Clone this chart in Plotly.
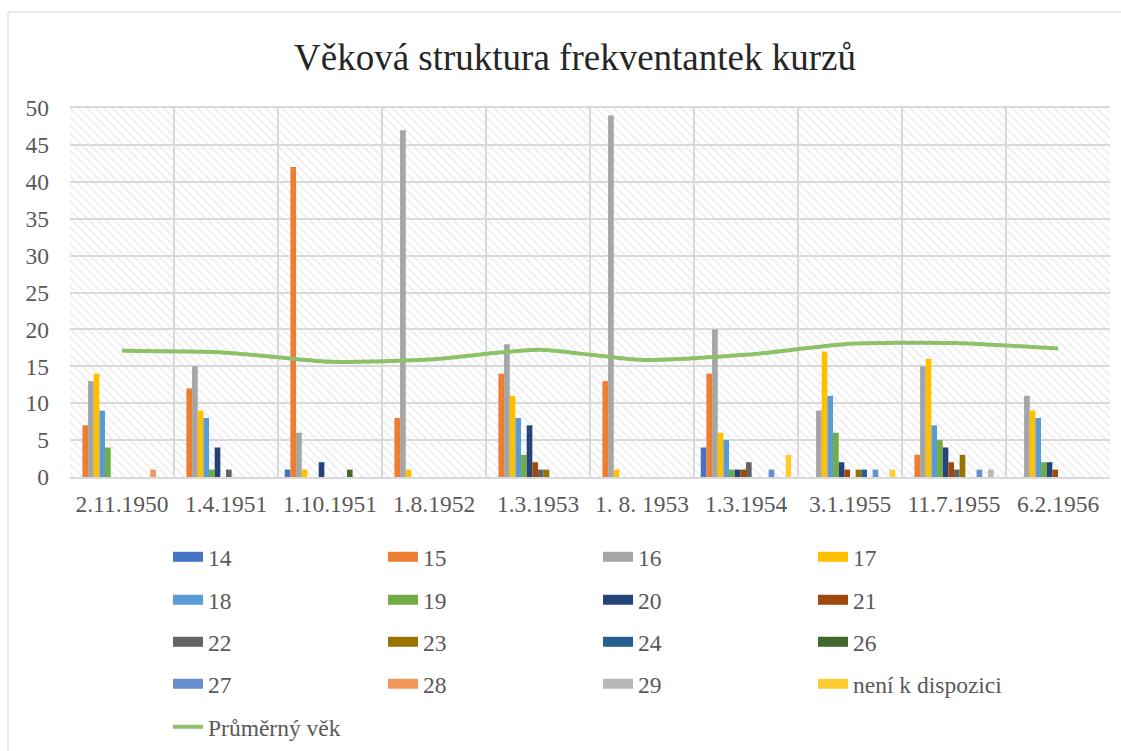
import plotly.graph_objects as go

categories = ["2.11.1950", "1.4.1951", "1.10.1951", "1.8.1952", "1.3.1953",
              "1. 8. 1953", "1.3.1954", "3.1.1955", "11.7.1955", "6.2.1956"]

s14 = [0, 0, 1, 0, 0, 0, 4, 0, 0, 0]
s15 = [7, 12, 42, 8, 14, 13, 14, 0, 3, 0]
s16 = [13, 15, 6, 47, 18, 49, 20, 9, 15, 11]
s17 = [14, 9, 1, 1, 11, 1, 6, 17, 16, 9]
s18 = [9, 8, 0, 0, 8, 0, 5, 11, 7, 8]
s19 = [4, 1, 0, 0, 3, 0, 1, 6, 5, 2]
s20 = [0, 4, 2, 0, 7, 0, 1, 2, 4, 2]
s21 = [0, 0, 0, 0, 2, 0, 1, 1, 2, 1]
s22 = [0, 1, 0, 0, 1, 0, 2, 0, 1, 0]
s23 = [0, 0, 0, 0, 1, 0, 0, 1, 3, 0]
s24 = [0, 0, 0, 0, 0, 0, 0, 1, 0, 0]
s26 = [0, 0, 1, 0, 0, 0, 0, 0, 0, 0]
s27 = [0, 0, 0, 0, 0, 0, 1, 1, 1, 0]
s28 = [1, 0, 0, 0, 0, 0, 0, 0, 0, 0]
s29 = [0, 0, 0, 0, 0, 0, 0, 0, 1, 0]
s_na = [0, 0, 0, 0, 0, 0, 3, 1, 0, 0]
avg_age = [17.1, 16.85, 15.6, 15.95, 17.25, 15.85, 16.55, 18.05, 18.15, 17.4]

series_names = ["14", "15", "16", "17", "18", "19", "20", "21", "22", "23",
                "24", "26", "27", "28", "29", "není k dispozici"]
series_values = [s14, s15, s16, s17, s18, s19, s20, s21, s22, s23,
                 s24, s26, s27, s28, s29, s_na]
series_colors = ["#4472C4", "#ED7D31", "#A5A5A5", "#FFC000", "#5B9BD5", "#70AD47",
                 "#264478", "#9E480E", "#636363", "#997300", "#255E91", "#43682B",
                 "#698ED0", "#F1975A", "#B7B7B7", "#FFCD33"]
line_color = "#8CC168"

W, H = 1121, 751
L, R, T, B = 70, 11, 108, 274
TXT = "#595959"
FONT = "Liberation Serif"
FS = 23.5

fig = go.Figure()

# hatched plot-area background (base subplot, hidden axes)
fig.add_trace(go.Bar(
    x=[0.5], y=[1], width=[1], xaxis="x", yaxis="y", showlegend=False,
    hoverinfo="skip",
    marker=dict(color="rgba(0,0,0,0)", line=dict(width=0),
                pattern=dict(shape="\\", fgcolor="#DADADA", bgcolor="rgba(0,0,0,0)",
                             size=6, solidity=0.3)),
))

for name, vals, col in zip(series_names, series_values, series_colors):
    fig.add_trace(go.Bar(
        x=categories, y=vals, name=name, marker=dict(color=col, line=dict(width=0)),
        xaxis="x2", yaxis="y2", showlegend=False,
    ))

fig.add_trace(go.Scatter(
    x=categories, y=avg_age, name="Průměrný věk", mode="lines",
    line=dict(color=line_color, width=4, shape="spline", smoothing=0.6),
    xaxis="x2", yaxis="y2", showlegend=False,
))

# legend rows (4 columns)
rows = [series_names[0:4], series_names[4:8], series_names[8:12], series_names[12:16]]
row_y = [557, 600, 642, 684, 727]
legend_keys = ["legend", "legend2", "legend3", "legend4", "legend5"]
for ri, row in enumerate(rows):
    for nm in row:
        col = series_colors[series_names.index(nm)]
        fig.add_trace(go.Scatter(
            x=[None], y=[None], name=nm, mode="lines",
            line=dict(color=col, width=12), xaxis="x2", yaxis="y2",
            legend=legend_keys[ri], showlegend=True,
        ))
fig.add_trace(go.Scatter(
    x=[None], y=[None], name="Průměrný věk", mode="lines",
    line=dict(color=line_color, width=4), xaxis="x2", yaxis="y2",
    legend="legend5", showlegend=True,
))

leg_common = dict(orientation="h", xref="container", yref="container",
                  xanchor="left", yanchor="middle", entrywidthmode="pixels",
                  entrywidth=170, bgcolor="rgba(0,0,0,0)", borderwidth=0,
                  font=dict(family=FONT, size=FS, color=TXT), itemwidth=30,
                  traceorder="normal")
legends = {}
for k, py in zip(legend_keys, row_y):
    legends[k] = dict(leg_common, x=168 / W, y=1 - py / H)

fig.update_layout(
    width=W, height=H,
    margin=dict(l=L, r=R, t=T, b=B, pad=0),
    paper_bgcolor="white", plot_bgcolor="white",
    font=dict(family=FONT, size=FS, color=TXT),
    title=dict(text="Věková struktura frekventantek kurzů", x=575 / W, xanchor="center",
               xref="container", yref="container", y=1 - 57 / H, yanchor="middle",
               font=dict(family=FONT, size=37, color="#262626")),
    barmode="group", bargap=0.13, bargroupgap=0,
    xaxis=dict(range=[0, 1], visible=False, fixedrange=True),
    yaxis=dict(range=[0, 1], visible=False, fixedrange=True),
    xaxis2=dict(overlaying="x", type="category", tickson="boundaries",
                showgrid=True, gridcolor="#D9D9D9", gridwidth=2,
                showline=True, linecolor="#D9D9D9", linewidth=2, mirror=True,
                ticks="", ticklabelstandoff=5,
                tickfont=dict(family=FONT, size=FS, color=TXT)),
    yaxis2=dict(overlaying="y", range=[0, 50], dtick=5, showgrid=True,
                gridcolor="#D9D9D9", gridwidth=2, zeroline=False, showline=False,
                ticks="", ticklabelstandoff=20,
                tickfont=dict(family=FONT, size=FS, color=TXT)),
    shapes=[dict(type="rect", xref="paper", yref="paper",
                 x0=(8 - L) / (W - L - R), x1=(1125 - L) / (W - L - R),
                 y0=(H - B - 760) / (H - T - B), y1=(H - B - 12) / (H - T - B),
                 line=dict(color="#D9D9D9", width=1), fillcolor="rgba(0,0,0,0)",
                 layer="below")],
    **legends,
)

fig.write_html("out.html", config={"displayModeBar": False},
               post_script="document.body.style.margin='0';document.body.style.padding='0';")
